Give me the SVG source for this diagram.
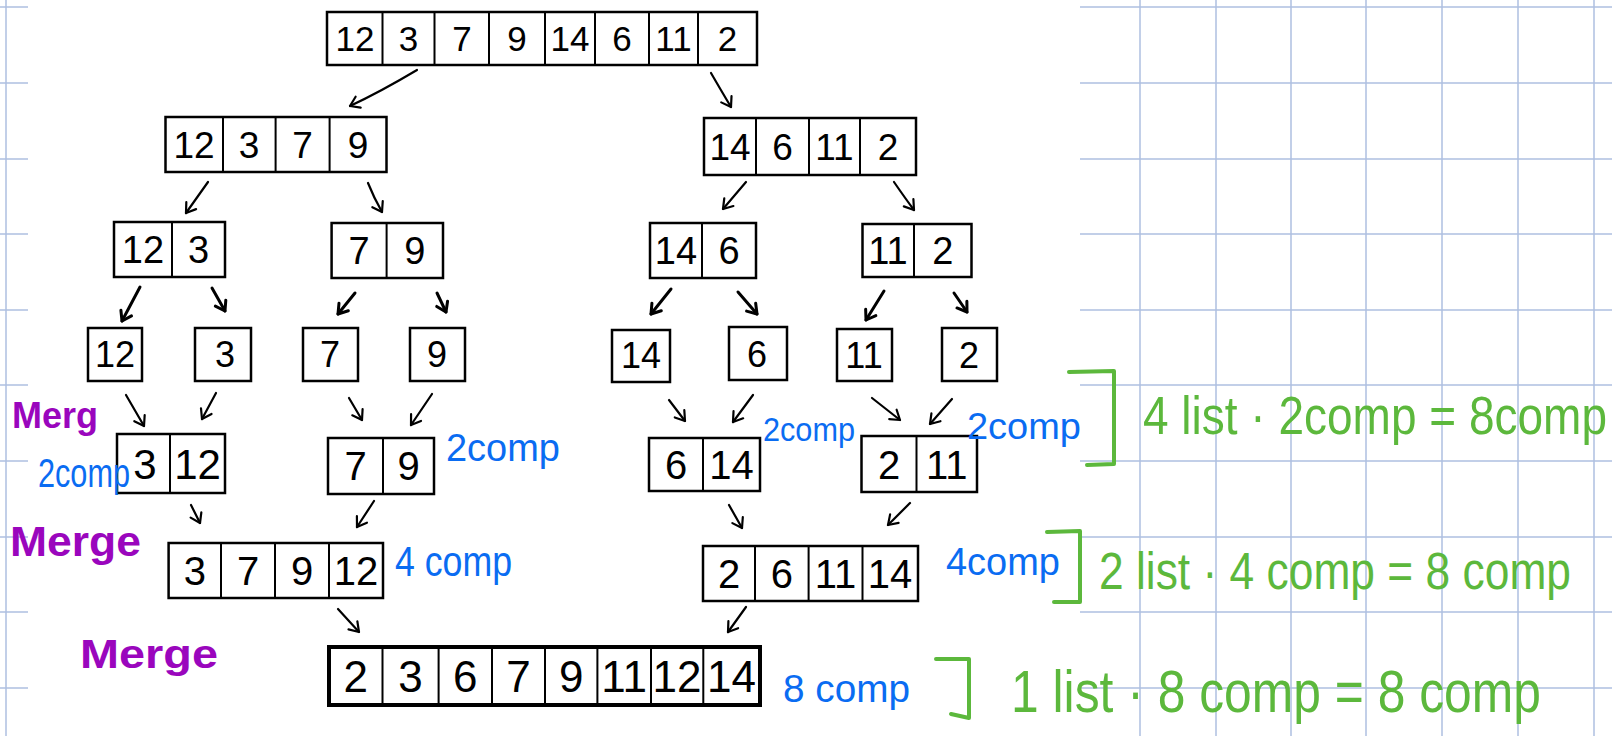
<svg xmlns="http://www.w3.org/2000/svg" width="1612" height="736" viewBox="0 0 1612 736">
<defs>
<style>
.grid line{stroke:#aebfe0;stroke-width:1.5}
.box{fill:#fff;stroke:#000;stroke-width:2.5}
.big{fill:#fff;stroke:#000;stroke-width:4}
.div{stroke:#000;stroke-width:2}
.d{font-family:"Liberation Sans",Arial,sans-serif;fill:#000;text-anchor:middle}
.arr{fill:none;stroke:#000;stroke-width:2.2;stroke-linecap:round;marker-end:url(#ah)}
.arrb{fill:none;stroke:#000;stroke-width:3;stroke-linecap:round;marker-end:url(#ahb)}
.pur{font-family:"Liberation Sans",Arial,sans-serif;fill:#9a06bd;font-weight:bold}
.blu{font-family:"Liberation Sans",Arial,sans-serif;fill:#0a6cf2}
.grn{font-family:"Liberation Sans",Arial,sans-serif;fill:#5cb83c}
.brk{fill:none;stroke:#5cb83c;stroke-width:4;stroke-linecap:round;stroke-linejoin:round}
</style>
<marker id="ah" markerUnits="userSpaceOnUse" markerWidth="20" markerHeight="20" refX="0" refY="0" viewBox="-12 -10 14 20" orient="auto">
<path d="M-9 -6 L0 0 L-9 6" fill="none" stroke="#000" stroke-width="2.2" stroke-linecap="round" stroke-linejoin="round"/>
</marker>
<marker id="ahb" markerUnits="userSpaceOnUse" markerWidth="20" markerHeight="20" refX="0" refY="0" viewBox="-12 -10 14 20" orient="auto">
<path d="M-9 -6 L0 0 L-9 6" fill="none" stroke="#000" stroke-width="3" stroke-linecap="round" stroke-linejoin="round"/>
</marker>
</defs>
<rect width="1612" height="736" fill="#fff"/>
<g class="grid">
<line x1="6" y1="0" x2="6" y2="736"/>
<line x1="1140" y1="0" x2="1140" y2="736"/>
<line x1="1216" y1="0" x2="1216" y2="736"/>
<line x1="1291" y1="0" x2="1291" y2="736"/>
<line x1="1366" y1="0" x2="1366" y2="736"/>
<line x1="1442" y1="0" x2="1442" y2="736"/>
<line x1="1518" y1="0" x2="1518" y2="736"/>
<line x1="1594" y1="0" x2="1594" y2="736"/>
<line x1="0" y1="7" x2="28" y2="7"/><line x1="1080" y1="7" x2="1612" y2="7"/>
<line x1="0" y1="83" x2="28" y2="83"/><line x1="1080" y1="83" x2="1612" y2="83"/>
<line x1="0" y1="159" x2="28" y2="159"/><line x1="1080" y1="159" x2="1612" y2="159"/>
<line x1="0" y1="234" x2="28" y2="234"/><line x1="1080" y1="234" x2="1612" y2="234"/>
<line x1="0" y1="310" x2="28" y2="310"/><line x1="1080" y1="310" x2="1612" y2="310"/>
<line x1="0" y1="385" x2="28" y2="385"/><line x1="1080" y1="385" x2="1612" y2="385"/>
<line x1="0" y1="461" x2="28" y2="461"/><line x1="1080" y1="461" x2="1612" y2="461"/>
<line x1="0" y1="537" x2="28" y2="537"/><line x1="1080" y1="537" x2="1612" y2="537"/>
<line x1="0" y1="612" x2="28" y2="612"/><line x1="1080" y1="612" x2="1612" y2="612"/>
<line x1="0" y1="688" x2="28" y2="688"/><line x1="1080" y1="688" x2="1612" y2="688"/>
</g>

<g id="connectors">
<path class="arr" d="M417 70 Q380 92 350 106"/>
<path class="arr" d="M711 73 Q722 92 731 107"/>
<path class="arr" d="M208 182 L186 213"/>
<path class="arr" d="M368 183 Q374 198 382 212"/>
<path class="arr" d="M746 182 L723 209"/>
<path class="arr" d="M894 182 Q905 198 914 210"/>
<path class="arrb" d="M140 287 L122 321"/>
<path class="arrb" d="M212 288 L225 311"/>
<path class="arrb" d="M355 293 L338 314"/>
<path class="arrb" d="M437 293 L446 312"/>
<path class="arrb" d="M671 289 L651 314"/>
<path class="arrb" d="M738 292 L757 314"/>
<path class="arrb" d="M884 291 L866 320"/>
<path class="arrb" d="M954 293 L967 312"/>
<path class="arr" d="M126 395 L144 426"/>
<path class="arr" d="M216 393 L202 419"/>
<path class="arr" d="M349 398 L362 420"/>
<path class="arr" d="M432 394 L411 425"/>
<path class="arr" d="M669 400 L685 421"/>
<path class="arr" d="M753 395 L733 422"/>
<path class="arr" d="M872 398 L900 420"/>
<path class="arr" d="M952 399 L930 424"/>
<path class="arr" d="M191 505 L200 523"/>
<path class="arr" d="M374 501 L357 527"/>
<path class="arr" d="M729 505 L742 528"/>
<path class="arr" d="M910 503 L888 525"/>
<path class="arr" d="M338 609 L359 632"/>
<path class="arr" d="M746 607 L728 632"/>
</g>

<g id="n-top">
<rect class="box" x="327" y="12" width="430" height="53"/>
<path class="div" d="M382.5 12V65M434.5 12V65M489 12V65M545 12V65M595 12V65M649 12V65M698 12V65"/>
<g class="d" font-size="35">
<text x="355" y="51">12</text><text x="408.5" y="51">3</text><text x="462" y="51">7</text><text x="517" y="51">9</text>
<text x="570" y="51">14</text><text x="622" y="51">6</text><text x="673.5" y="51">11</text><text x="727.5" y="51">2</text>
</g>
</g>

<g id="n-l2a">
<rect class="box" x="165.5" y="117" width="221" height="55"/>
<path class="div" d="M223 117V172M275.6 117V172M329.6 117V172"/>
<g class="d" font-size="37">
<text x="194" y="158">12</text><text x="249" y="158">3</text><text x="302.6" y="158">7</text><text x="358" y="158">9</text>
</g>
</g>

<g id="n-l2b">
<rect class="box" x="704" y="118" width="212" height="57"/>
<path class="div" d="M756 118V175M809 118V175M860 118V175"/>
<g class="d" font-size="37">
<text x="730" y="160">14</text><text x="782.5" y="160">6</text><text x="834.5" y="160">11</text><text x="888" y="160">2</text>
</g>
</g>

<g id="n-l3a">
<rect class="box" x="114" y="222" width="111" height="55"/>
<path class="div" d="M172 222V277"/>
<g class="d" font-size="38"><text x="143" y="263">12</text><text x="198.5" y="263">3</text></g>
</g>
<g id="n-l3b">
<rect class="box" x="331.6" y="223" width="111.4" height="55"/>
<path class="div" d="M386.6 223V278"/>
<g class="d" font-size="38"><text x="359" y="264">7</text><text x="414.8" y="264">9</text></g>
</g>
<g id="n-l3c">
<rect class="box" x="650" y="223" width="106" height="55"/>
<path class="div" d="M702 223V278"/>
<g class="d" font-size="38"><text x="676" y="264">14</text><text x="729" y="264">6</text></g>
</g>
<g id="n-l3d">
<rect class="box" x="862.5" y="224" width="109" height="53"/>
<path class="div" d="M914 224V277"/>
<g class="d" font-size="38"><text x="888" y="264">11</text><text x="942.8" y="264">2</text></g>
</g>

<g id="n-l4a"><rect class="box" x="88" y="328" width="54" height="53"/><text class="d" font-size="36" x="115" y="367">12</text></g>
<g id="n-l4b"><rect class="box" x="195" y="328" width="56" height="53"/><text class="d" font-size="36" x="225" y="367">3</text></g>
<g id="n-l4c"><rect class="box" x="303" y="328" width="55" height="53"/><text class="d" font-size="36" x="330" y="367">7</text></g>
<g id="n-l4d"><rect class="box" x="410" y="328" width="55" height="53"/><text class="d" font-size="36" x="437" y="367">9</text></g>
<g id="n-l4e"><rect class="box" x="612" y="330" width="58" height="52"/><text class="d" font-size="36" x="641" y="368">14</text></g>
<g id="n-l4f"><rect class="box" x="729" y="327" width="58" height="53"/><text class="d" font-size="36" x="757" y="367">6</text></g>
<g id="n-l4g"><rect class="box" x="837" y="329" width="55" height="52"/><text class="d" font-size="36" x="864" y="368">11</text></g>
<g id="n-l4h"><rect class="box" x="942" y="328" width="55" height="53"/><text class="d" font-size="36" x="969" y="368">2</text></g>

<g id="n-l5a">
<rect class="box" x="117" y="434" width="108" height="59"/>
<path class="div" d="M170 434V493"/>
<g class="d" font-size="42"><text x="145" y="479">3</text><text x="197.5" y="479">12</text></g>
</g>
<g id="n-l5b">
<rect class="box" x="328" y="438" width="106" height="56"/>
<path class="div" d="M383 438V494"/>
<g class="d" font-size="40"><text x="355.5" y="480">7</text><text x="408.5" y="480">9</text></g>
</g>
<g id="n-l5c">
<rect class="box" x="649" y="438" width="111" height="53"/>
<path class="div" d="M703 438V491"/>
<g class="d" font-size="40"><text x="676" y="479">6</text><text x="731.5" y="479">14</text></g>
</g>
<g id="n-l5d">
<rect class="box" x="861.5" y="436" width="115.5" height="56"/>
<path class="div" d="M916.5 436V492"/>
<g class="d" font-size="40"><text x="889" y="479">2</text><text x="946.7" y="479">11</text></g>
</g>

<g id="n-l6a">
<rect class="box" x="168.6" y="543" width="214.4" height="55"/>
<path class="div" d="M221 543V598M275 543V598M329 543V598"/>
<g class="d" font-size="40"><text x="194.8" y="585">3</text><text x="248" y="585">7</text><text x="302" y="585">9</text><text x="356" y="585">12</text></g>
</g>
<g id="n-l6b">
<rect class="box" x="703" y="546" width="215" height="55"/>
<path class="div" d="M755 546V601M808.6 546V601M862.5 546V601"/>
<g class="d" font-size="40"><text x="729" y="588">2</text><text x="781.8" y="588">6</text><text x="835.5" y="588">11</text><text x="890" y="588">14</text></g>
</g>

<g id="n-final">
<rect class="big" x="329" y="647" width="431" height="58"/>
<path class="div" stroke-width="3" d="M382.5 647V705M438.6 647V705M492 647V705M545 647V705M597.4 647V705M651 647V705M703.3 647V705"/>
<g class="d" font-size="44"><text x="355.75" y="692">2</text><text x="410.5" y="692">3</text><text x="465.3" y="692">6</text><text x="518.5" y="692">7</text><text x="571.2" y="692">9</text><text x="624.2" y="692">11</text><text x="677.1" y="692">12</text><text x="731.6" y="692">14</text></g>
</g>

<g id="labels-merge">
<text class="pur" x="12" y="428" font-size="36" textLength="86" lengthAdjust="spacingAndGlyphs">Merg</text>
<text class="pur" x="10" y="556" font-size="42" textLength="131" lengthAdjust="spacingAndGlyphs">Merge</text>
<text class="pur" x="80" y="668" font-size="40" textLength="138" lengthAdjust="spacingAndGlyphs">Merge</text>
</g>

<g id="labels-comp">
<text class="blu" x="38" y="487" font-size="40" textLength="92" lengthAdjust="spacingAndGlyphs">2comp</text>
<text class="blu" x="446" y="461" font-size="38" textLength="114" lengthAdjust="spacingAndGlyphs">2comp</text>
<text class="blu" x="395" y="576" font-size="42" textLength="117" lengthAdjust="spacingAndGlyphs">4 comp</text>
<text class="blu" x="763" y="441" font-size="33" textLength="92" lengthAdjust="spacingAndGlyphs">2comp</text>
<text class="blu" x="967" y="439" font-size="37" textLength="114" lengthAdjust="spacingAndGlyphs">2comp</text>
<text class="blu" x="946" y="575" font-size="38" textLength="114" lengthAdjust="spacingAndGlyphs">4comp</text>
<text class="blu" x="783" y="702" font-size="38" textLength="127" lengthAdjust="spacingAndGlyphs">8 comp</text>
</g>

<g id="totals">
<path class="brk" d="M1069 372 L1114 371 L1114 464 L1087 465"/>
<text class="grn" transform="translate(1143,434) scale(1,1.15)" x="0" y="0" font-size="46" textLength="464" lengthAdjust="spacingAndGlyphs">4 list · 2comp = 8comp</text>
<path class="brk" d="M1047 532 L1080 531 L1080 602 L1054 602"/>
<text class="grn" transform="translate(1099,589) scale(1,1.15)" x="0" y="0" font-size="44.5" textLength="472" lengthAdjust="spacingAndGlyphs">2 list · 4 comp = 8 comp</text>
<path class="brk" d="M936 659 L969 659 L969 718 L951 714"/>
<text class="grn" transform="translate(1011,712) scale(1,1.2)" x="0" y="0" font-size="50" textLength="530" lengthAdjust="spacingAndGlyphs">1 list · 8 comp = 8 comp</text>
</g>
</svg>
